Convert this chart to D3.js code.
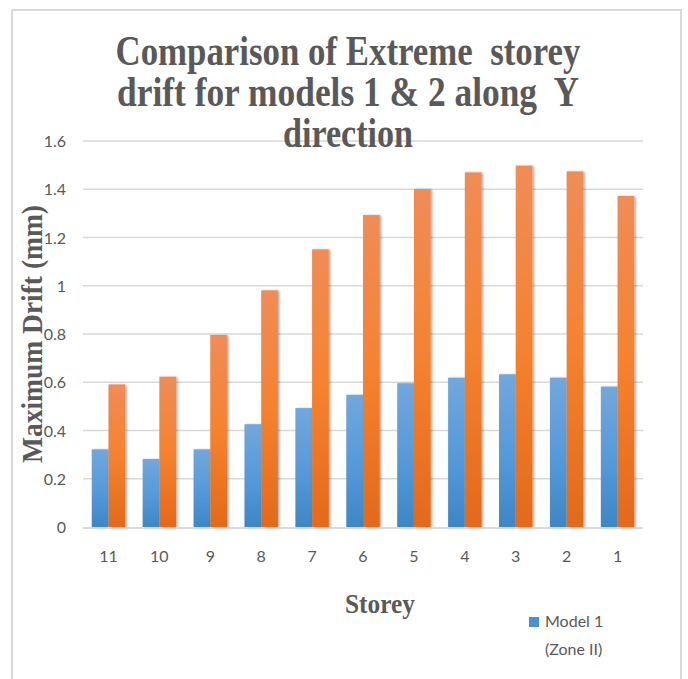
<!DOCTYPE html>
<html>
<head>
<meta charset="utf-8">
<script src="https://cdn.jsdelivr.net/npm/d3@7"></script>
<style>
  html, body { margin: 0; padding: 0; background: #fff; }
  svg { display: block; }
  .pre { white-space: pre; }
</style>
</head>
<body>
<div id="chart"></div>
<script>
const storeys = ["11", "10", "9", "8", "7", "6", "5", "4", "3", "2", "1"];
const model1 = [0.322, 0.282, 0.322, 0.426, 0.493, 0.548, 0.596, 0.619, 0.633, 0.619, 0.582];
const model2 = [0.591, 0.623, 0.796, 0.981, 1.151, 1.293, 1.401, 1.470, 1.498, 1.474, 1.372];
const seriesNames = ["Model 1 (Zone II)", "Model 2"];
const yTicks = [0, 0.2, 0.4, 0.6, 0.8, 1, 1.2, 1.4, 1.6];
const titleLines = ["Comparison of Extreme  storey", "drift for models 1 & 2 along  Y", "direction"];

const W = 688, H = 679;
const svg = d3.select("#chart").append("svg").attr("width", W).attr("height", H);

const defs = svg.append("defs");
const gBlue = defs.append("linearGradient").attr("id", "gBlue").attr("x1", 0).attr("y1", 0).attr("x2", 0).attr("y2", 1);
gBlue.append("stop").attr("offset", "0%").attr("stop-color", "#72a7dc");
gBlue.append("stop").attr("offset", "55%").attr("stop-color", "#5599d9");
gBlue.append("stop").attr("offset", "100%").attr("stop-color", "#3e86c6");
const gOr = defs.append("linearGradient").attr("id", "gOr").attr("x1", 0).attr("y1", 0).attr("x2", 0).attr("y2", 1);
gOr.append("stop").attr("offset", "0%").attr("stop-color", "#f08c57");
gOr.append("stop").attr("offset", "50%").attr("stop-color", "#f5822f");
gOr.append("stop").attr("offset", "100%").attr("stop-color", "#e3691a");
const sh = defs.append("filter").attr("id", "shadow").attr("x", "-30%").attr("y", "-10%").attr("width", "160%").attr("height", "120%");
sh.append("feDropShadow").attr("dx", 1.5).attr("dy", 0.5).attr("stdDeviation", 1.2)
  .attr("flood-color", "#000").attr("flood-opacity", 0.35);

// outer border
svg.append("rect").attr("x", 12).attr("y", 10).attr("width", 669).attr("height", 680)
  .attr("fill", "#fff").attr("stroke", "#d9d9d9").attr("stroke-width", 2);

const plot = { left: 83, right: 643, top: 141, bottom: 527 };

const y = d3.scaleLinear().domain([0, 1.6]).range([plot.bottom, plot.top]);
const x = d3.scaleBand().domain(storeys).range([plot.left, plot.right])
  .paddingInner(0.344).paddingOuter(0.172);
const xs = d3.scaleBand().domain([0, 1]).range([0, x.bandwidth()]);

// gridlines
svg.append("g").selectAll("line").data(yTicks.filter(d => d > 0)).join("line")
  .attr("x1", plot.left).attr("x2", plot.right)
  .attr("y1", d => y(d)).attr("y2", d => y(d))
  .attr("stroke", "#d9d9d9").attr("stroke-width", 1.5);

// y axis labels
const yAxis = d3.axisLeft(y).tickValues(yTicks).tickSize(0).tickPadding(0)
  .tickFormat(d => d3.format("")(+d.toFixed(1)));
const yg = svg.append("g").attr("transform", `translate(${66},0)`).call(yAxis);
yg.select(".domain").remove();
yg.selectAll("text").attr("font-family", "Lato, 'Open Sans', sans-serif").attr("font-size", 16)
  .attr("fill", "#595959").attr("dy", "0.35em");

// bars
const data = storeys.map((s, i) => ({ s, vals: [model1[i], model2[i]] }));
const groups = svg.append("g").selectAll("g").data(data).join("g")
  .attr("transform", d => `translate(${x(d.s)},0)`);
groups.selectAll("rect").data(d => d.vals.map((v, k) => ({ v, k }))).join("rect")
  .attr("x", d => xs(d.k))
  .attr("width", xs.bandwidth())
  .attr("y", d => y(d.v))
  .attr("height", d => y(0) - y(d.v))
  .attr("fill", d => d.k === 0 ? "url(#gBlue)" : "url(#gOr)")
  .attr("filter", "url(#shadow)");

// x axis baseline
svg.append("line").attr("x1", plot.left).attr("x2", plot.right)
  .attr("y1", plot.bottom + 1).attr("y2", plot.bottom + 1)
  .attr("stroke", "#d9d9d9").attr("stroke-width", 2);

// x axis labels
const xAxis = d3.axisBottom(x).tickSize(0).tickPadding(0);
const xg = svg.append("g").attr("transform", `translate(0,${556})`).call(xAxis);
xg.select(".domain").remove();
xg.selectAll("text").attr("font-family", "Lato, 'Open Sans', sans-serif").attr("font-size", 16)
  .attr("fill", "#595959").attr("dy", "0.35em").attr("y", 0);

// title
const titleY = [65, 106, 147];
const titleW = [465, 462, 130];
svg.append("g").selectAll("text").data(titleLines).join("text")
  .attr("class", "pre")
  .attr("x", 348).attr("y", (d, i) => titleY[i])
  .attr("text-anchor", "middle")
  .attr("font-family", "'Liberation Serif', 'Times New Roman', serif")
  .attr("font-weight", "bold").attr("font-size", 43)
  .attr("fill", "#595959")
  .attr("textLength", (d, i) => titleW[i]).attr("lengthAdjust", "spacingAndGlyphs")
  .text(d => d);

// y axis title
svg.append("text")
  .attr("transform", `translate(42,334) rotate(-90)`)
  .attr("text-anchor", "middle")
  .attr("font-family", "'Liberation Serif', 'Times New Roman', serif")
  .attr("font-weight", "bold").attr("font-size", 29)
  .attr("fill", "#595959")
  .attr("textLength", 258).attr("lengthAdjust", "spacingAndGlyphs")
  .text("Maximum Drift (mm)");

// x axis title
svg.append("text")
  .attr("x", 380).attr("y", 613)
  .attr("text-anchor", "middle")
  .attr("font-family", "'Liberation Serif', 'Times New Roman', serif")
  .attr("font-weight", "bold").attr("font-size", 27)
  .attr("fill", "#595959")
  .attr("textLength", 70).attr("lengthAdjust", "spacingAndGlyphs")
  .text("Storey");

// legend (only first entry visible)
const leg = svg.append("g").attr("transform", "translate(529,617)");
leg.append("rect").attr("width", 10).attr("height", 10).attr("fill", "#4a90d4");
leg.append("text").attr("x", 16).attr("y", 10)
  .attr("font-family", "Lato, 'Open Sans', sans-serif").attr("font-size", 16).attr("fill", "#595959")
  .text("Model 1");
leg.append("text").attr("x", 16).attr("y", 38)
  .attr("font-family", "Lato, 'Open Sans', sans-serif").attr("font-size", 16).attr("fill", "#595959")
  .text("(Zone II)");
</script>
</body>
</html>
